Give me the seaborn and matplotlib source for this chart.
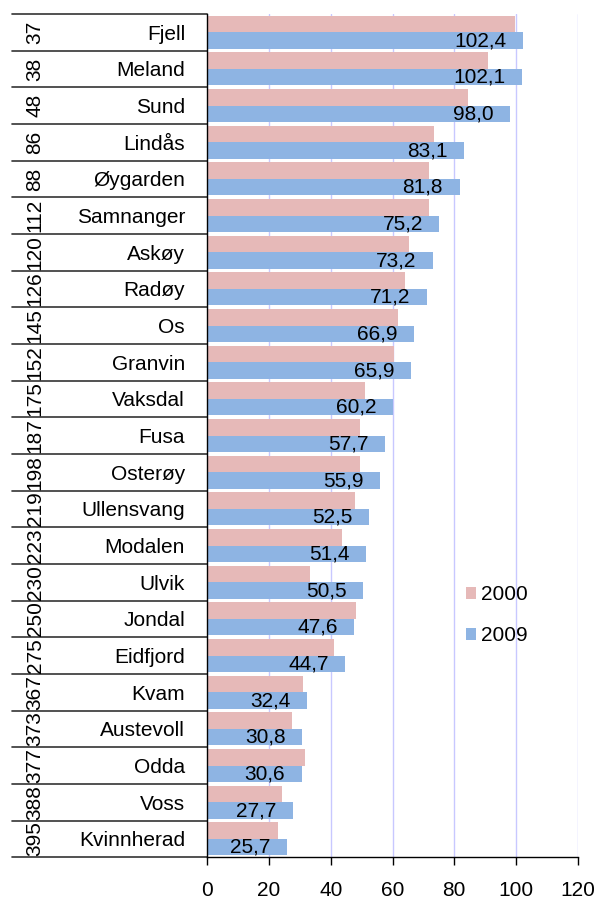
import numpy as np
import pandas as pd
import matplotlib
matplotlib.use("Agg")
import matplotlib.pyplot as plt
import matplotlib.transforms as mtransforms
import seaborn as sns

# ==============================
# DATA
# ==============================
ranks = [37, 38, 48, 86, 88, 112, 120, 126, 145, 152, 175, 187, 198,
         219, 223, 230, 250, 275, 367, 373, 377, 388, 395]
kommuner = ["Fjell", "Meland", "Sund", "Lindås", "Øygarden", "Samnanger",
            "Askøy", "Radøy", "Os", "Granvin", "Vaksdal", "Fusa", "Osterøy",
            "Ullensvang", "Modalen", "Ulvik", "Jondal", "Eidfjord", "Kvam",
            "Austevoll", "Odda", "Voss", "Kvinnherad"]
v2000 = [99.6, 91.1, 84.3, 73.4, 71.9, 71.8, 65.3, 64.2, 61.7, 60.4, 51.2,
         49.4, 49.4, 47.8, 43.6, 33.2, 48.2, 40.9, 31.1, 27.5, 31.7, 24.1, 22.9]
v2009 = [102.4, 102.1, 98.0, 83.1, 81.8, 75.2, 73.2, 71.2, 66.9, 65.9, 60.2,
         57.7, 55.9, 52.5, 51.4, 50.5, 47.6, 44.7, 32.4, 30.8, 30.6, 27.7, 25.7]
years = ["2000", "2009"]
x_ticks = [0, 20, 40, 60, 80, 100, 120]

PINK = "#E6B9B8"
BLUE = "#8EB4E3"

# ==============================
# PLOT
# ==============================
sns.set_style("white")
plt.rcParams["font.family"] = ["Liberation Sans", "DejaVu Sans"]
plt.rcParams["font.size"] = 15
for key in ["text.color", "axes.labelcolor", "xtick.color", "ytick.color"]:
    plt.rcParams[key] = "black"

df = pd.DataFrame({
    "kommune": kommuner * 2,
    "verdi": v2000 + v2009,
    "aar": [years[0]] * len(kommuner) + [years[1]] * len(kommuner),
})

fig = plt.figure(figsize=(5.96, 9.01), dpi=100)
ax = fig.add_axes([207.3 / 596, 1 - 857.3 / 901, 370.4 / 596, 843.3 / 901])

sns.barplot(data=df, y="kommune", x="verdi", hue="aar", hue_order=years,
            orient="h", palette=[PINK, BLUE], width=0.9, saturation=1,
            linewidth=0, ax=ax)

ax.set_xlim(0, 120)
ax.set_ylim(len(kommuner) - 0.5, -0.5)
ax.set_xticks(x_ticks)
ax.set_xlabel("")
ax.set_ylabel("")

ax.xaxis.grid(True, color="#c8c8ff", lw=1)
ax.yaxis.grid(False)
ax.set_axisbelow(True)
for s in ["top", "right"]:
    ax.spines[s].set_visible(False)
for s in ["left", "bottom"]:
    ax.spines[s].set_color("black")
    ax.spines[s].set_linewidth(1)

ax.tick_params(axis="x", bottom=True, direction="out", length=6, width=1,
               color="black", pad=11, labelsize=15, labelcolor="black")
ax.tick_params(axis="y", left=False, length=0, pad=16, labelsize=15,
               labelcolor="black")

# value labels for 2009, inside end of the bars
fmt = [f"{v:.1f}".replace(".", ",") for v in v2009]
texts = ax.bar_label(ax.containers[1], labels=fmt, padding=-12, fontsize=15,
                     color="black")
for t in texts:
    t.set_ha("right")

# table on the left: separators + rank numbers
trans = mtransforms.blended_transform_factory(ax.transAxes, ax.transData)
for b in np.arange(-0.5, len(kommuner)):
    ax.plot([-0.527, 0], [b, b], transform=trans, clip_on=False,
            color="#333333", lw=1.2)
for i, r in enumerate(ranks):
    ax.text(-0.465, i, str(r), transform=trans, rotation=90,
            ha="center", va="center", fontsize=15, color="black")

# legend
handles, labels = ax.get_legend_handles_labels()
leg = ax.legend(handles, labels, loc="center left",
                bbox_to_anchor=(0.698, 0.287), frameon=False, borderpad=0,
                borderaxespad=0, handlelength=0.5, handleheight=0.5,
                handletextpad=0.25, labelspacing=1.05, fontsize=15)
for t in leg.get_texts():
    t.set_color("black")

fig.savefig("out.png", dpi=100)
